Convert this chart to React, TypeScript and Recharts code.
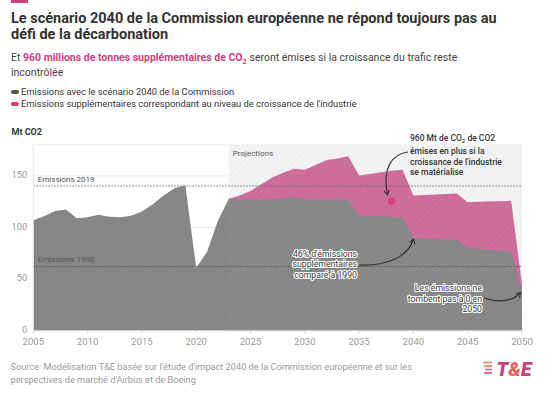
import {
  ComposedChart,
  Area,
  XAxis,
  YAxis,
  CartesianGrid,
  ReferenceLine,
  ReferenceArea,
  ReferenceDot,
} from 'recharts';

const years = [
  2005, 2006, 2007, 2008, 2009, 2010, 2011, 2012, 2013, 2014, 2015, 2016,
  2017, 2018, 2019, 2020, 2021, 2022, 2023, 2024, 2025, 2026, 2027, 2028,
  2029, 2030, 2031, 2032, 2033, 2034, 2035, 2036, 2037, 2038, 2039, 2040,
  2041, 2042, 2043, 2044, 2045, 2046, 2047, 2048, 2049, 2050,
];

// Mt CO2, scénario 2040 de la Commission
const commissionScenario = [
  107, 111, 116, 117.5, 109, 110, 112.5, 110.5, 110, 111.5, 115.5, 122.5,
  131, 138, 141, 61, 76.5, 106.5, 128, 128, 127.5, 127, 127.5, 128.5,
  129.5, 127.5, 127, 127, 127, 127, 112, 111.5, 111, 110.5, 110, 90,
  89.5, 89, 88.5, 88, 80.5, 79.5, 78.5, 77.5, 76.5, 39,
];

// Mt CO2, si la croissance de l'industrie se matérialise
const industryGrowth = [
  null, null, null, null, null, null, null, null, null, null, null, null,
  null, null, null, null, null, null, 128, 131, 135.5, 142, 148.5, 153,
  157, 156, 160.5, 165.5, 167, 169, 150.5, 152, 153.5, 155, 156, 131,
  131.5, 132, 132.5, 133, 124.5, 125, 125.5, 125.5, 126, 45,
];

const xTicks = [2005, 2010, 2015, 2020, 2025, 2030, 2035, 2040, 2045, 2050];
const yTicks = [0, 50, 100, 150];

const emissions2019 = 140.2;
const emissions1990 = 62.3;
const projectionStart = 2023;
const projectionEnd = 2050;
const highlightYear = 2038;
const highlightValue = 125.6;

const data = years.map((year, i) => ({
  year,
  commission: commissionScenario[i],
  growth: industryGrowth[i],
}));

const FONT = 'Roboto, sans-serif';
const GREY = '#868686';
const PINK = '#cd6b98';
const MAGENTA = '#d2407d';

const RefLabel = ({ viewBox, text }: any) => (
  <text
    x={viewBox.x + 4.5}
    y={viewBox.y - 4}
    fontSize={8}
    fill="#555"
    fontFamily={FONT}
  >
    {text}
  </text>
);

const ProjLabel = ({ viewBox }: any) => (
  <text
    x={viewBox.x + 4}
    y={viewBox.y + 11}
    fontSize={8}
    fill="#555"
    fontFamily={FONT}
  >
    Projections
  </text>
);

export default function App() {
  return (
    <div
      style={{
        position: 'absolute',
        left: 0,
        top: 0,
        width: 546,
        height: 393,
        background: '#fff',
        fontFamily: FONT,
        overflow: 'hidden',
      }}
    >
      <div style={{ position: 'absolute', left: 11, top: 0, width: 17, height: 3, background: MAGENTA }} />
      <div
        style={{
          position: 'absolute',
          left: 11,
          top: 10.8,
          width: 530,
          fontSize: 14.5,
          lineHeight: '16.5px',
          fontWeight: 700,
          color: '#333',
        }}
      >
        Le scénario 2040 de la Commission européenne ne répond toujours pas au
        <br />
        défi de la décarbonation
      </div>
      <div
        style={{
          position: 'absolute',
          left: 11,
          top: 50,
          width: 530,
          fontSize: 10.5,
          lineHeight: '15px',
          color: '#444',
        }}
      >
        Et{' '}
        <span style={{ color: MAGENTA, fontWeight: 700 }}>
          960 millions de tonnes supplémentaires de CO<sub style={{ fontSize: 7.5, lineHeight: 0 }}>2</sub>
        </span>{' '}
        seront émises si la croissance du trafic reste
        <br />
        incontrôlée
      </div>
      <div style={{ position: 'absolute', left: 11, top: 86, fontSize: 9.4, lineHeight: '12px', color: '#333' }}>
        <div style={{ display: 'flex', alignItems: 'center' }}>
          <span style={{ width: 8, height: 3.5, borderRadius: 2, background: '#555', marginRight: 2 }} />
          Emissions avec le scénario 2040 de la Commission
        </div>
        <div style={{ display: 'flex', alignItems: 'center' }}>
          <span style={{ width: 8, height: 3.5, borderRadius: 2, background: MAGENTA, marginRight: 2 }} />
          Emissions supplémentaires correspondant au niveau de croissance de l'industrie
        </div>
      </div>
      <div
        style={{
          position: 'absolute',
          left: 11.5,
          top: 125.5,
          fontSize: 9,
          lineHeight: '12px',
          fontWeight: 700,
          color: '#333',
        }}
      >
        Mt CO2
      </div>

      <div style={{ position: 'absolute', left: 0, top: 0 }}>
        <ComposedChart
          width={546}
          height={393}
          data={data}
          margin={{ top: 145, right: 24, bottom: 32.3, left: 3.3 }}
        >
          <defs>
            <pattern id="hatchBg" width="4" height="4" patternUnits="userSpaceOnUse" patternTransform="rotate(45)">
              <rect width="4" height="4" fill="#f0f0f0" />
              <line x1="0" y1="0" x2="0" y2="4" stroke="#fafafa" strokeWidth="1.5" />
            </pattern>
            <pattern id="hatchFg" width="4" height="4" patternUnits="userSpaceOnUse" patternTransform="rotate(45)">
              <line x1="0" y1="0" x2="0" y2="4" stroke="rgba(255,255,255,0.07)" strokeWidth="1.5" />
            </pattern>
          </defs>
          <ReferenceArea
            x1={projectionStart}
            x2={projectionEnd}
            y1={0}
            y2={180}
            fill="url(#hatchBg)"
            fillOpacity={1}
            stroke="none"
            label={<ProjLabel />}
          />
          <CartesianGrid vertical={false} stroke="#ebebeb" />
          <XAxis
            dataKey="year"
            type="number"
            domain={[2005, 2050]}
            ticks={xTicks}
            tick={{ fontSize: 9.6, fill: '#9a9a9a', fontFamily: FONT }}
            tickSize={3}
            tickMargin={4}
            height={30}
            stroke="#d5d5d5"
          />
          <YAxis
            type="number"
            domain={[0, 180]}
            ticks={yTicks}
            width={30}
            tickLine={false}
            tickSize={6}
            tickMargin={0}
            axisLine={{ stroke: '#e6e6e6' }}
            tick={{ fontSize: 9.3, fill: '#9a9a9a', fontFamily: FONT, dy: -1 }}
          />
          <Area
            type="linear"
            dataKey="growth"
            stroke="none"
            fill={PINK}
            fillOpacity={1}
            isAnimationActive={false}
            activeDot={false}
          />
          <Area
            type="linear"
            dataKey="commission"
            stroke="none"
            fill={GREY}
            fillOpacity={1}
            isAnimationActive={false}
            activeDot={false}
          />
          <ReferenceArea
            x1={projectionStart}
            x2={projectionEnd}
            y1={0}
            y2={180}
            fill="url(#hatchFg)"
            fillOpacity={1}
            stroke="none"
          />
          <ReferenceLine
            y={emissions2019}
            stroke="#666"
            strokeDasharray="1.5 1.5"
            label={<RefLabel text="Emissions 2019" />}
          />
          <ReferenceLine
            y={emissions1990}
            stroke="#555"
            strokeDasharray="1.5 1.5"
            label={<RefLabel text="Emissions 1990" />}
          />
          <ReferenceDot x={highlightYear} y={highlightValue} r={3.8} fill={MAGENTA} stroke="none" />
        </ComposedChart>
      </div>

      <svg
        width={546}
        height={393}
        style={{ position: 'absolute', left: 0, top: 0, pointerEvents: 'none' }}
        fontFamily={FONT}
      >
        <defs>
          <marker id="arrowHead" viewBox="0 0 8 8" refX="6" refY="4" markerWidth="6" markerHeight="6" orient="auto">
            <path d="M1,1 L6,4 L1,7" fill="none" stroke="#333" strokeWidth="1.3" />
          </marker>
        </defs>
        <g fontSize={8.5} fontWeight={500} fill="#333">
          <text x={410} y={141}>
            960 Mt de CO<tspan fontSize={6} dy={2}>2</tspan>
            <tspan dy={-2}> de CO2</tspan>
          </text>
          <text x={410} y={154}>émises en plus si la</text>
          <text x={410} y={164.5}>croissance de l'industrie</text>
          <text x={410} y={175}>se matérialise</text>
        </g>
        <path d="M408,152 C392,154 382,168 387.5,195" fill="none" stroke="#333" strokeWidth={1.2} markerEnd="url(#arrowHead)" />

        <g
          fontSize={8.7}
          fill="#3a3a3a"
          stroke="#fff"
          strokeWidth={2.2}
          paintOrder="stroke"
          strokeLinejoin="round"
          textAnchor="end"
        >
          <text x={357} y={256.5}>46% d'émissions</text>
          <text x={357} y={267}>supplémentaires</text>
          <text x={357} y={277.5}>comparé à 1990</text>
          <text x={482} y={291}>Les émissions ne</text>
          <text x={482} y={301.5}>tombent pas à 0 en</text>
          <text x={482} y={312}>2050</text>
        </g>
        <path d="M359,265 C385,266 408,258 413.5,239" fill="none" stroke="#333" strokeWidth={1.2} markerEnd="url(#arrowHead)" />
        <path d="M484,298 C500,303 512,302 520.5,292.5" fill="none" stroke="#333" strokeWidth={1.2} markerEnd="url(#arrowHead)" />

        <g fontSize={9.2} fill="#9a9a9a">
          <text x={10.5} y={369.5}>
            Source: Modélisation T&amp;E basée sur l'étude d'impact 2040 de la Commission européenne et sur les
          </text>
          <text x={10.5} y={382.5}>perspectives de marché d'Airbus et de Boeing</text>
        </g>

        <g strokeWidth={1.6}>
          <line x1={483} y1={362.5} x2={492} y2={362.5} stroke="#f0895a" />
          <line x1={484} y1={366} x2={492} y2={366} stroke="#ec7564" />
          <line x1={485} y1={369.5} x2={492} y2={369.5} stroke="#e2607a" />
          <line x1={484} y1={373} x2={492} y2={373} stroke="#d84f82" />
        </g>
        <text
          x={496.5}
          y={375.5}
          fontSize={20}
          fontWeight={900}
          fontStyle="italic"
          textLength={35}
          lengthAdjust="spacingAndGlyphs"
        >
          <tspan fill="#c63f7c">T</tspan>
          <tspan fill="#ea5f62">&amp;</tspan>
          <tspan fill="#c9407e">E</tspan>
        </text>
      </svg>
    </div>
  );
}
